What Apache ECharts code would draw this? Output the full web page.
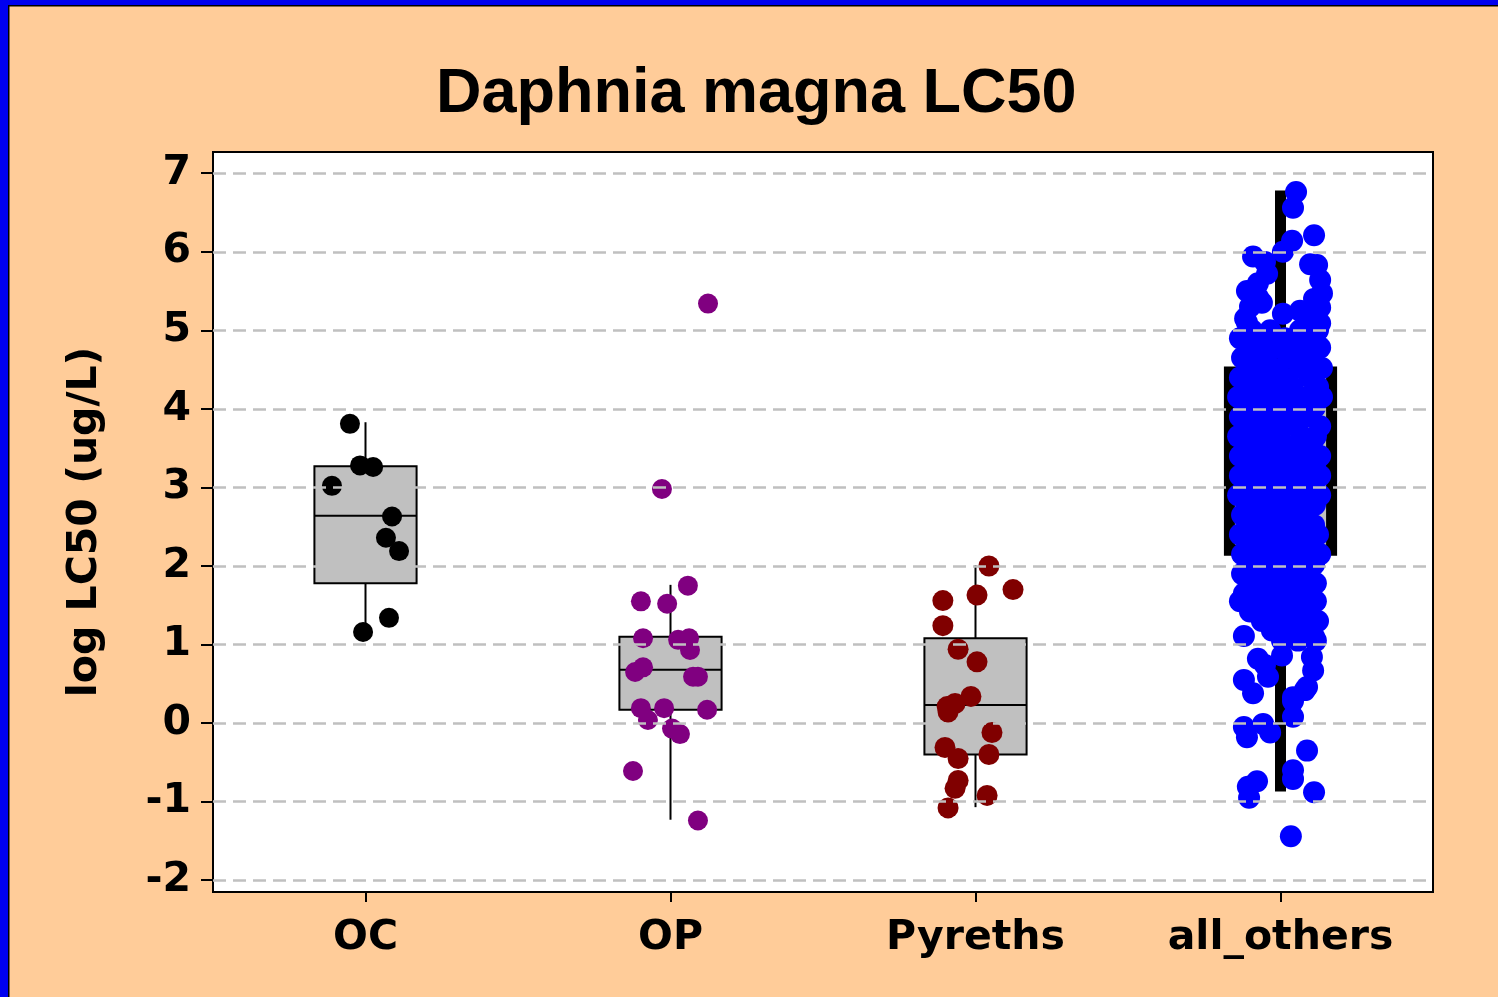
<!DOCTYPE html>
<html>
<head>
<meta charset="utf-8">
<title>Daphnia magna LC50</title>
<script src="https://cdn.jsdelivr.net/npm/echarts@6/dist/echarts.min.js"></script>
<style>
  html, body { margin: 0; padding: 0; background: #ffcc99; }
  #main { width: 1498px; height: 997px; }
</style>
</head>
<body>
<div id="main"></div>
<script>
/* data */
var categories = ['OC', 'OP', 'Pyreths', 'all_others'];
var yTicks = [-2, -1, 0, 1, 2, 3, 4, 5, 6, 7];

// [category index, low whisker, q1, median, q3, high whisker]
var boxStats = [
  [0, 1.18, 1.78, 2.64, 3.27, 3.83],
  [1, -1.23, 0.17, 0.68, 1.10, 1.76],
  [2, -1.07, -0.40, 0.23, 1.08, 2.01],
  [3, -0.87, 2.20, 3.30, 4.47, 6.78]
];

// points: [jitter (category units), log LC50]
var ocPoints = [
  [-0.051, 3.81], [-0.018, 3.28], [0.025, 3.26], [-0.110, 3.02], [0.087, 2.63],
  [0.067, 2.36], [0.110, 2.19], [0.077, 1.34], [-0.008, 1.16]
];
var opPoints = [
  [0.123, 5.34], [-0.028, 2.98], [0.057, 1.75], [-0.097, 1.55], [-0.011, 1.52],
  [-0.090, 1.08], [0.025, 1.06], [0.061, 1.08], [0.064, 0.93], [-0.090, 0.71],
  [-0.116, 0.65], [0.074, 0.59], [0.090, 0.59], [-0.097, 0.19], [-0.021, 0.19],
  [-0.074, 0.04], [0.120, 0.17], [0.005, -0.07], [0.031, -0.14], [-0.123, -0.61],
  [0.090, -1.24]
];
var pyrPoints = [
  [0.044, 2.00], [0.123, 1.70], [0.005, 1.63], [-0.107, 1.56], [-0.107, 1.24],
  [-0.057, 0.94], [0.005, 0.78], [-0.015, 0.34], [-0.067, 0.25], [-0.093, 0.21],
  [-0.090, 0.14], [0.054, -0.12], [-0.100, -0.31], [-0.057, -0.45], [0.044, -0.40],
  [-0.057, -0.73], [-0.067, -0.83], [0.038, -0.92], [-0.090, -1.08]
];
var otherPoints = [
  // sparse top
  [0.051, 6.76], [0.041, 6.56], [0.110, 6.21], [0.038, 6.14], [0.008, 6.00],
  [-0.090, 5.94], [-0.051, 5.87], [0.097, 5.84], [0.120, 5.83], [-0.044, 5.72],
  [0.130, 5.64], [-0.074, 5.60], [-0.110, 5.50], [0.136, 5.47], [-0.074, 5.42],
  [-0.061, 5.35], [0.130, 5.29], [0.064, 5.25], [0.008, 5.21], [-0.116, 5.15],
  [-0.110, 5.10], [0.130, 5.09], [-0.100, 5.30], [0.110, 5.40], [0.090, 5.15],
  // dense body
  [-0.093, 5.00], [-0.034, 5.00], [0.064, 5.00], [0.123, 5.00],
  [-0.133, 4.90], [-0.061, 4.90], [0.015, 4.90], [0.097, 4.90],
  [-0.107, 4.78], [-0.018, 4.78], [0.051, 4.78], [0.130, 4.78],
  [-0.126, 4.65], [-0.061, 4.65], [0.025, 4.65], [0.090, 4.65],
  [-0.100, 4.52], [-0.028, 4.52], [0.064, 4.52], [0.136, 4.52],
  [-0.133, 4.40], [-0.074, 4.40], [0.008, 4.40], [0.097, 4.40],
  [-0.113, 4.28], [-0.041, 4.28], [0.038, 4.28], [0.123, 4.28],
  [-0.139, 4.15], [-0.067, 4.15], [-0.002, 4.15], [0.070, 4.15], [0.136, 4.15],
  [-0.100, 4.02], [-0.028, 4.02], [0.041, 4.02], [0.113, 4.02],
  [-0.133, 3.90], [-0.061, 3.90], [0.011, 3.90], [0.084, 3.90],
  [-0.107, 3.78], [-0.034, 3.78], [0.051, 3.78], [0.130, 3.78],
  [-0.139, 3.65], [-0.074, 3.65], [-0.002, 3.65], [0.070, 3.65], [0.116, 3.65],
  [-0.110, 3.52], [-0.041, 3.52], [0.031, 3.52], [0.103, 3.52],
  [-0.133, 3.40], [-0.061, 3.40], [0.005, 3.40], [0.080, 3.40], [0.130, 3.40],
  [-0.100, 3.28], [-0.028, 3.28], [0.048, 3.28], [0.113, 3.28],
  [-0.133, 3.15], [-0.074, 3.15], [-0.002, 3.15], [0.070, 3.15], [0.130, 3.15],
  [-0.113, 3.02], [-0.041, 3.02], [0.031, 3.02], [0.103, 3.02],
  [-0.139, 2.90], [-0.067, 2.90], [0.008, 2.90], [0.080, 2.90], [0.130, 2.90],
  [-0.100, 2.78], [-0.028, 2.78], [0.044, 2.78], [0.113, 2.78],
  [-0.126, 2.65], [-0.061, 2.65], [0.011, 2.65], [0.084, 2.65],
  [-0.107, 2.52], [-0.034, 2.52], [0.038, 2.52], [0.110, 2.52],
  [-0.133, 2.40], [-0.067, 2.40], [-0.002, 2.40], [0.070, 2.40], [0.123, 2.40],
  [-0.107, 2.28], [-0.034, 2.28], [0.041, 2.28], [0.103, 2.28],
  [-0.126, 2.15], [-0.061, 2.15], [0.011, 2.15], [0.080, 2.15], [0.130, 2.15],
  [-0.100, 2.02], [-0.028, 2.02], [0.044, 2.02], [0.110, 2.02],
  [-0.126, 1.90], [-0.061, 1.90], [0.011, 1.90], [0.084, 1.90],
  [-0.100, 1.78], [-0.028, 1.78], [0.041, 1.78], [0.116, 1.78],
  [-0.120, 1.65], [-0.051, 1.65], [0.018, 1.65], [0.084, 1.65],
  [-0.133, 1.55], [-0.074, 1.55], [-0.002, 1.55], [0.064, 1.55], [0.116, 1.55],
  [-0.100, 1.42], [-0.028, 1.42], [0.038, 1.42], [0.097, 1.42],
  [-0.061, 1.30], [0.005, 1.30], [0.064, 1.30], [0.123, 1.30],
  [-0.028, 1.18], [0.038, 1.18], [0.084, 1.18],
  [0.005, 1.05], [0.057, 1.05], [0.116, 1.05],
  // sparse bottom
  [-0.120, 1.11], [0.110, 1.10], [0.005, 0.86], [0.103, 0.84], [-0.074, 0.82],
  [-0.051, 0.74], [0.107, 0.67], [-0.041, 0.59], [-0.120, 0.55], [0.087, 0.46],
  [0.080, 0.42], [-0.090, 0.38], [0.041, 0.33], [0.041, 0.28], [0.041, 0.08],
  [-0.057, -0.01], [-0.120, -0.05], [-0.034, -0.12], [-0.110, -0.18], [0.087, -0.35],
  [0.041, -0.60], [0.041, -0.71], [-0.077, -0.74], [-0.107, -0.81], [0.110, -0.88],
  [-0.103, -0.95], [0.034, -1.44]
];

function place(points, idx) {
  return points.map(function (p) { return [idx + p[0], p[1]]; });
}

var font = 'DejaVu Sans';
var chart = echarts.init(document.getElementById('main'));

var option = {
  backgroundColor: '#ffcc99',
  animation: false,
  title: {
    text: 'Daphnia magna LC50',
    left: 431,
    top: 58,
    textStyle: { fontFamily: 'Liberation Sans', fontWeight: 'bold', fontSize: 63, color: '#000' }
  },
  graphic: [
    { type: 'rect', shape: { x: 0, y: 0, width: 1498, height: 5 }, style: { fill: '#0000f0' }, silent: true },
    { type: 'rect', shape: { x: 0, y: 0, width: 8, height: 997 }, style: { fill: '#0000f0' }, silent: true },
    { type: 'rect', shape: { x: 8, y: 5, width: 1490, height: 1.5 }, style: { fill: '#000' }, silent: true },
    { type: 'rect', shape: { x: 8, y: 5, width: 1.5, height: 992 }, style: { fill: '#000' }, silent: true }
  ],
  grid: {
    left: 213, top: 152, right: 65, bottom: 105,
    show: true, backgroundColor: '#fff', borderColor: '#000', borderWidth: 2
  },
  xAxis: [
    {
      type: 'category',
      data: categories,
      axisLine: { show: true, onZero: false, lineStyle: { color: '#000', width: 2 } },
      axisTick: { show: true, alignWithLabel: true, length: 10, lineStyle: { color: '#000', width: 2 } },
      axisLabel: { fontFamily: font, fontWeight: 'bold', fontSize: 41, color: '#000', margin: 26 },
      splitLine: { show: false }
    },
    {
      type: 'value', min: -0.5, max: 3.5, show: false,
      axisLine: { show: false, onZero: false }, splitLine: { show: false }
    }
  ],
  yAxis: {
    type: 'value',
    min: -2.15,
    max: 7.27,
    name: 'log LC50 (ug/L)',
    nameLocation: 'middle',
    nameRotate: 90,
    nameGap: 107,
    nameTextStyle: { fontFamily: font, fontWeight: 'bold', fontSize: 41, color: '#000' },
    axisLine: { show: true, onZero: false, lineStyle: { color: '#000', width: 2 } },
    axisTick: { show: true, length: 12, lineStyle: { color: '#000', width: 2 }, customValues: yTicks },
    axisLabel: { fontFamily: font, fontWeight: 'bold', fontSize: 41, color: '#000', margin: 22, customValues: yTicks },
    splitLine: { show: false }
  },
  series: [
    {
      // dashed grid lines
      type: 'line',
      xAxisIndex: 1,
      data: [],
      z: 1,
      silent: true,
      markLine: {
        silent: true,
        symbol: ['none', 'none'],
        label: { show: false },
        lineStyle: { color: '#c0c0c0', width: 2.5, type: [13, 7] },
        data: yTicks.map(function (v) { return { yAxis: v }; })
      }
    },
    {
      type: 'custom',
      xAxisIndex: 0,
      z: 2,
      silent: true,
      data: boxStats,
      encode: { x: 0, y: [1, 2, 3, 4, 5] },
      renderItem: function (params, api) {
        var i = api.value(0);
        var lo = api.coord([i, api.value(1)]);
        var q1 = api.coord([i, api.value(2)]);
        var med = api.coord([i, api.value(3)]);
        var q3 = api.coord([i, api.value(4)]);
        var hi = api.coord([i, api.value(5)]);
        var band = api.size([1, 0])[0];
        var w = band * 0.335;
        var lw = params.dataIndex === 3 ? 11 : 2;
        var st = { stroke: '#000', lineWidth: lw, fill: null };
        return {
          type: 'group',
          children: [
            { type: 'line', shape: { x1: lo[0], y1: lo[1], x2: q1[0], y2: q1[1] }, style: st },
            { type: 'line', shape: { x1: q3[0], y1: q3[1], x2: hi[0], y2: hi[1] }, style: st },
            { type: 'rect', shape: { x: q3[0] - w / 2, y: q3[1], width: w, height: q1[1] - q3[1] },
              style: { fill: '#c0c0c0', stroke: '#000', lineWidth: lw } },
            { type: 'line', shape: { x1: med[0] - w / 2, y1: med[1], x2: med[0] + w / 2, y2: med[1] }, style: st }
          ]
        };
      }
    },
    {
      type: 'scatter', xAxisIndex: 1, z: 3, symbolSize: 20,
      itemStyle: { color: '#000000', opacity: 1 },
      data: place(ocPoints, 0)
    },
    {
      type: 'scatter', xAxisIndex: 1, z: 3, symbolSize: 20,
      itemStyle: { color: '#800080', opacity: 1 },
      data: place(opPoints, 1)
    },
    {
      type: 'scatter', xAxisIndex: 1, z: 3, symbolSize: 21,
      itemStyle: { color: '#800000', opacity: 1 },
      data: place(pyrPoints, 2)
    },
    {
      type: 'scatter', xAxisIndex: 1, z: 3, symbolSize: 22,
      itemStyle: { color: '#0000ff', opacity: 1 },
      data: place(otherPoints, 3)
    }
  ]
};

chart.setOption(option);
</script>
</body>
</html>
